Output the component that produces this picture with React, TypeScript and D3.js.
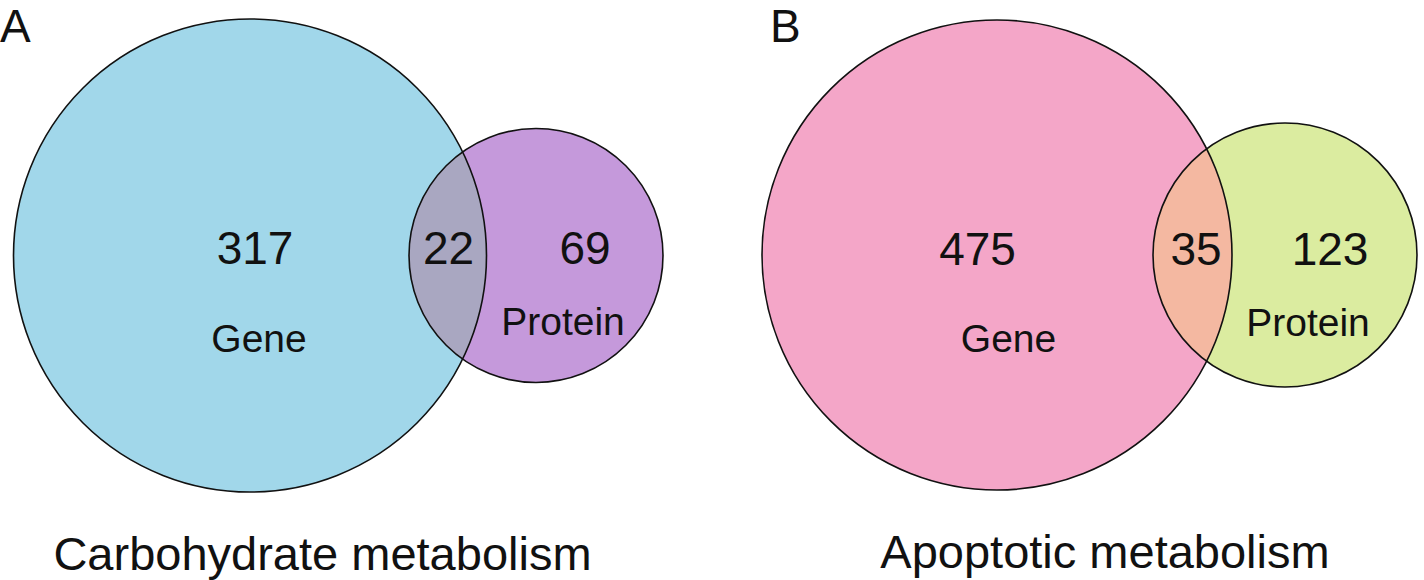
import React, { useEffect, useRef } from "react";
import * as d3 from "d3";

// ---- data ----
const panelLetters = ["A", "B"];
const panelTitles = ["Carbohydrate metabolism", "Apoptotic metabolism"];
const setNames = ["Gene", "Protein"];
const geneOnly = [317, 475];
const overlap = [22, 35];
const proteinOnly = [69, 123];

// ---- styles ----
const geneColors = ["#a1d7ea", "#f4a6c8"];
const proteinColors = ["#c599db", "#dbeca0"];
const overlapColors = ["#a9a7c1", "#f4b8a1"];

// ---- layout (pixels) ----
const W = 1424;
const H = 580;
const layout = [
  {
    big: { cx: 250, cy: 255.5, r: 236.5 },
    small: { cx: 536, cy: 255.5, r: 127 },
    geneNum: [255, 264], geneLab: [259, 352],
    ovNum: [448.5, 264], protNum: [585, 264], protLab: [563, 335],
    letter: [0, 42], title: [322.5, 570],
  },
  {
    big: { cx: 997, cy: 255, r: 235 },
    small: { cx: 1285, cy: 255, r: 132 },
    geneNum: [977.5, 265], geneLab: [1008.5, 352],
    ovNum: [1196, 265], protNum: [1330, 265], protLab: [1308, 336],
    letter: [770, 42], title: [1105, 568],
  },
];

const FONT = "'Liberation Sans', Arial, Helvetica, sans-serif";

export default function App() {
  const ref = useRef<SVGSVGElement | null>(null);

  useEffect(() => {
    const svg = d3.select(ref.current);
    svg.selectAll("*").remove();
    const defs = svg.append("defs");

    panelLetters.forEach((letter, i) => {
      const L = layout[i];
      const g = svg.append("g");
      const clipId = `clip-big-${i}`;
      defs
        .append("clipPath")
        .attr("id", clipId)
        .append("circle")
        .attr("cx", L.big.cx)
        .attr("cy", L.big.cy)
        .attr("r", L.big.r);

      // fills
      g.append("circle")
        .attr("cx", L.big.cx).attr("cy", L.big.cy).attr("r", L.big.r)
        .attr("fill", geneColors[i]);
      g.append("circle")
        .attr("cx", L.small.cx).attr("cy", L.small.cy).attr("r", L.small.r)
        .attr("fill", proteinColors[i]);
      g.append("circle")
        .attr("cx", L.small.cx).attr("cy", L.small.cy).attr("r", L.small.r)
        .attr("fill", overlapColors[i])
        .attr("clip-path", `url(#${clipId})`);
      // outlines
      [L.big, L.small].forEach((c) => {
        g.append("circle")
          .attr("cx", c.cx).attr("cy", c.cy).attr("r", c.r)
          .attr("fill", "none")
          .attr("stroke", "#111")
          .attr("stroke-width", 1.6);
      });

      const text = (x: number, y: number, s: string, size: number, anchor = "middle") =>
        g.append("text")
          .attr("x", x).attr("y", y)
          .attr("text-anchor", anchor)
          .attr("font-family", FONT)
          .attr("font-size", size)
          .attr("fill", "#111")
          .text(s);

      text(L.geneNum[0], L.geneNum[1], String(geneOnly[i]), 46);
      text(L.ovNum[0], L.ovNum[1], String(overlap[i]), 46);
      text(L.protNum[0], L.protNum[1], String(proteinOnly[i]), 46);
      text(L.geneLab[0], L.geneLab[1], setNames[0], 39);
      text(L.protLab[0], L.protLab[1], setNames[1], 39);
      text(L.letter[0], L.letter[1], letter, 46, "start");
      text(L.title[0], L.title[1], panelTitles[i], 47);
    });
  }, []);

  return (
    <svg
      ref={ref}
      width={W}
      height={H}
      style={{ position: "absolute", left: 0, top: 0, background: "#fff" }}
    />
  );
}
